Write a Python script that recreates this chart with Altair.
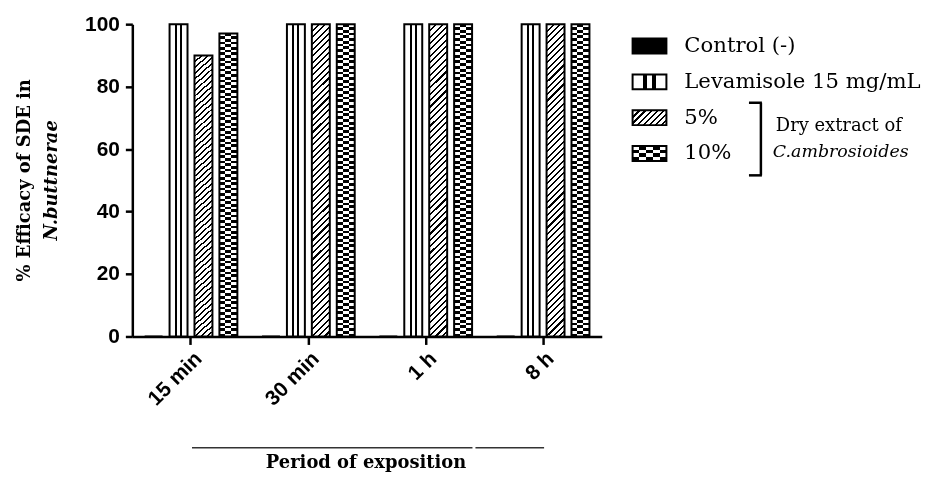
import altair as alt
import pandas as pd

# ---------------- data ----------------
periods = ["15 min", "30 min", "1 h", "8 h"]
series = ["Control (-)", "Levamisole 15 mg/mL", "5%", "10%"]
control = [0, 0, 0, 0]
levamisole = [100, 100, 100, 100]
extract_5 = [90, 100, 100, 100]
extract_10 = [97, 100, 100, 100]
y_ticks = [0, 20, 40, 60, 80, 100]
x_title = "Period of exposition"
y_title_1 = "% Efficacy of SDE in"
y_title_2 = "N.buttnerae"
bracket_1 = "Dry extract of"
bracket_2 = "C.ambrosioides"

values = {series[0]: control, series[1]: levamisole, series[2]: extract_5, series[3]: extract_10}
rows = []
for s in series:
    for p, v in zip(periods, values[s]):
        rows.append({"period": p, "series": s, "value": v})
df = pd.DataFrame(rows)

# ---------------- pattern helpers (styling) ----------------
BLACK, WHITE = "#000000", "#ffffff"


def stripes(n, on_frac, x1=0, y1=0, x2=1, y2=0, invert=False):
    a_col, b_col = (WHITE, BLACK) if invert else (BLACK, WHITE)
    stops = []
    for i in range(n):
        a = i / n
        b = (i + on_frac) / n
        c = (i + 1) / n
        stops += [
            {"offset": a, "color": a_col},
            {"offset": b, "color": a_col},
            {"offset": b, "color": b_col},
            {"offset": c, "color": b_col},
        ]
    return {"gradient": "linear", "x1": x1, "y1": y1, "x2": x2, "y2": y2, "stops": stops}


def columns(n):
    # alternating black / white columns, starting with black
    stops = []
    for i in range(n):
        col = BLACK if i % 2 == 0 else WHITE
        stops += [{"offset": i / n, "color": col}, {"offset": (i + 1) / n, "color": col}]
    return {"gradient": "linear", "x1": 0, "y1": 0, "x2": 1, "y2": 0, "stops": stops}


def hatch_vec(w, h):
    k = h / w
    p = (1 + k) / (1 + k * k)
    return p, k * p


def vbars():
    stops = []
    cuts = [(0.0, WHITE), (0.30, BLACK), (0.42, WHITE), (0.58, BLACK), (0.70, WHITE)]
    for i, (o, col) in enumerate(cuts):
        end = cuts[i + 1][0] if i + 1 < len(cuts) else 1.0
        stops += [{"offset": o, "color": col}, {"offset": end, "color": col}]
    return {"gradient": "linear", "x1": 0, "y1": 0, "x2": 1, "y2": 0, "stops": stops}


BAR_W, BAR_H = 18, 314
hp, hq = hatch_vec(BAR_W, BAR_H)
hatch_bar = stripes(52, 0.33, 0, 0, hp, hq)
check_cols = columns(3)
check_rows = stripes(56, 0.5, 0, 0, 0, 1, invert=True)  # white rows xor columns
lev_fill = vbars()

# ---------------- encodings ----------------
x_enc = alt.X(
    "period:N",
    sort=periods,
    scale=alt.Scale(domain=periods, paddingInner=0.21, paddingOuter=0.105),
    axis=alt.Axis(title=None, labelAngle=-45, tickSize=8, labelPadding=3),
)
xo_enc = alt.XOffset(
    "series:N", sort=series, scale=alt.Scale(domain=series, paddingInner=0.28, paddingOuter=0)
)
y_enc = alt.Y(
    "value:Q",
    scale=alt.Scale(domain=[0, 100], nice=False),
    axis=alt.Axis(title=None, values=y_ticks, tickSize=7, labelPadding=6),
)

base = alt.Chart(df).encode(x=x_enc, xOffset=xo_enc, y=y_enc)


def sel(name):
    return base.transform_filter(alt.datum.series == name)


bars = [
    sel(series[0]).mark_bar(fill=BLACK, stroke=BLACK, strokeWidth=2),
    sel(series[1]).mark_bar(fill=lev_fill, stroke=BLACK, strokeWidth=2),
    sel(series[2]).mark_bar(fill=hatch_bar, stroke=BLACK, strokeWidth=2),
    sel(series[3]).mark_bar(fill=check_cols),
    sel(series[3]).mark_bar(fill=check_rows, blend="difference"),
    sel(series[3]).mark_bar(fillOpacity=0, stroke=BLACK, strokeWidth=2),
]

# ---------------- legend (drawn) ----------------
one = pd.DataFrame({"k": [0]})
LX, LW, LH = 503, 34, 15
row_y = [22, 58, 94, 130]
legend_layers = []
leg_fills = [
    [BLACK],
    [vbars()],
    [stripes(8, 0.35, 0, 0, *hatch_vec(LW, LH))],
    [columns(5), stripes(2, 0.5, 0, 0, 0, 1, invert=True)],
]
for i, s in enumerate(series):
    y0 = row_y[i] - LH / 2
    pos = dict(x=alt.value(LX), x2=alt.value(LX + LW), y=alt.value(y0), y2=alt.value(y0 + LH))
    for j, f in enumerate(leg_fills[i]):
        if j == 0:
            legend_layers.append(alt.Chart(one).mark_rect(fill=f).encode(**pos))
        else:
            legend_layers.append(alt.Chart(one).mark_rect(fill=f, blend="difference").encode(**pos))
    legend_layers.append(
        alt.Chart(one).mark_rect(fillOpacity=0, stroke=BLACK, strokeWidth=2).encode(**pos)
    )
    legend_layers.append(
        alt.Chart(pd.DataFrame({"t": [s]})).mark_text(
            font="DejaVu Serif", fontSize=21.3, align="left", baseline="middle", color=BLACK
        ).encode(text="t:N", x=alt.value(555), y=alt.value(row_y[i]))
    )

# bracket
BX, BT, BB = 632, 79, 152
bracket = [
    alt.Chart(one).mark_rule(color=BLACK, strokeWidth=2.5).encode(
        x=alt.value(BX), y=alt.value(BT), y2=alt.value(BB)
    ),
    alt.Chart(one).mark_rule(color=BLACK, strokeWidth=2.5).encode(
        x=alt.value(BX - 12), x2=alt.value(BX + 1), y=alt.value(BT)
    ),
    alt.Chart(one).mark_rule(color=BLACK, strokeWidth=2.5).encode(
        x=alt.value(BX - 12), x2=alt.value(BX + 1), y=alt.value(BB)
    ),
    alt.Chart(pd.DataFrame({"t": [bracket_1]})).mark_text(
        font="DejaVu Serif", fontSize=18, align="left", baseline="middle", color=BLACK
    ).encode(text="t:N", x=alt.value(647), y=alt.value(102)),
    alt.Chart(pd.DataFrame({"t": [bracket_2]})).mark_text(
        font="DejaVu Serif", fontSize=17.5, fontStyle="italic", align="left", baseline="middle",
        color=BLACK
    ).encode(text="t:N", x=alt.value(644), y=alt.value(129)),
]

# ---------------- axis titles (drawn) ----------------
titles = [
    alt.Chart(pd.DataFrame({"t": [y_title_1]})).mark_text(
        font="DejaVu Serif", fontSize=18, fontWeight="bold", angle=270, align="center",
        baseline="middle", color=BLACK
    ).encode(text="t:N", x=alt.value(-108), y=alt.value(157)),
    alt.Chart(pd.DataFrame({"t": [y_title_2]})).mark_text(
        font="DejaVu Serif", fontSize=18, fontWeight="bold", fontStyle="italic", angle=270,
        align="center", baseline="middle", color=BLACK
    ).encode(text="t:N", x=alt.value(-81), y=alt.value(157)),
    alt.Chart(pd.DataFrame({"t": [x_title]})).mark_text(
        font="DejaVu Serif", fontSize=18, fontWeight="bold", align="center",
        baseline="middle", color=BLACK
    ).encode(text="t:N", x=alt.value(235), y=alt.value(441)),
    alt.Chart(one).mark_rule(color="#333333", strokeWidth=1.5).encode(
        x=alt.value(60), x2=alt.value(342), y=alt.value(426)
    ),
    alt.Chart(one).mark_rule(color="#333333", strokeWidth=1.5).encode(
        x=alt.value(345), x2=alt.value(414), y=alt.value(426)
    ),
]

chart = (
    alt.layer(*bars, *legend_layers, *bracket, *titles)
    .properties(
        width=472,
        height=314,
        autosize=alt.AutoSizeParams(type="none"),
        padding={"left": 125, "top": 15, "right": 325, "bottom": 135},
        background="white",
    )
    .configure_view(stroke=None)
    .configure_axis(
        grid=False,
        domainColor=BLACK,
        domainWidth=2.5,
        tickColor=BLACK,
        tickWidth=2.5,
        labelFont="Liberation Sans",
        labelFontSize=21,
        labelFontWeight="bold",
        labelColor=BLACK,
    )
)

chart.save("out.html", embed_options={"renderer": "svg", "actions": False})
